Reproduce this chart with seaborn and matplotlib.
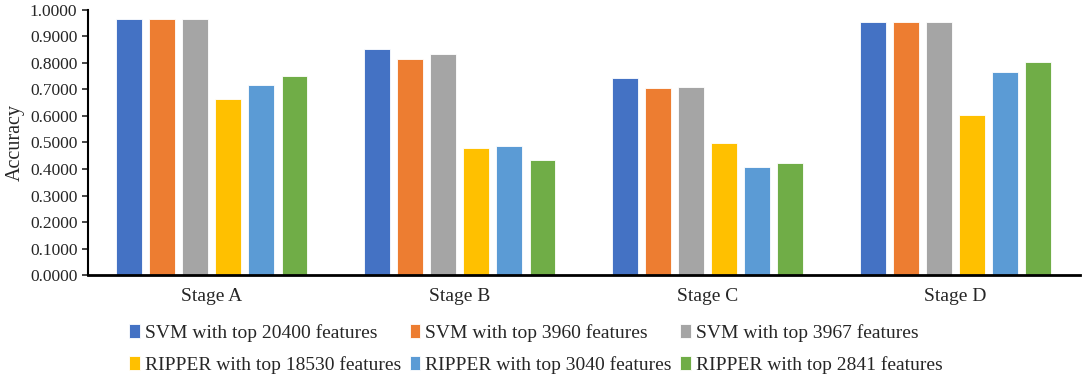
import seaborn as sns
import matplotlib.pyplot as plt
import pandas as pd
from matplotlib.ticker import FormatStrFormatter

stages = ["Stage A", "Stage B", "Stage C", "Stage D"]
series = [
    "SVM with top 20400 features",
    "SVM with top 3960 features",
    "SVM with top 3967 features",
    "RIPPER with top 18530 features",
    "RIPPER with top 3040 features",
    "RIPPER with top 2841 features",
]
svm_20400 = [0.966, 0.854, 0.742, 0.954]
svm_3960 = [0.966, 0.816, 0.706, 0.954]
svm_3967 = [0.966, 0.833, 0.711, 0.954]
ripper_18530 = [0.665, 0.480, 0.499, 0.605]
ripper_3040 = [0.716, 0.488, 0.406, 0.767]
ripper_2841 = [0.750, 0.435, 0.424, 0.803]
colors = ["#4472C4", "#ED7D31", "#A5A5A5", "#FFC000", "#5B9BD5", "#70AD47"]

values = [svm_20400, svm_3960, svm_3967, ripper_18530, ripper_3040, ripper_2841]
rows = []
for name, vals in zip(series, values):
    for st, v in zip(stages, vals):
        rows.append({"stage": st, "model": name, "acc": v})
df = pd.DataFrame(rows)

sns.set_style("white")
plt.rcParams["font.family"] = ["Liberation Serif", "DejaVu Serif"]

fig = plt.figure(figsize=(10.84, 3.81), dpi=100)
ax = fig.add_axes([0.081, 0.278, 0.915, 0.696])
sns.barplot(data=df, x="stage", y="acc", hue="model", hue_order=series,
            palette=colors, width=0.8, gap=0.22, edgecolor="white",
            linewidth=0.6, saturation=1, ax=ax, legend=True)

ax.set_ylim(0, 1.0)
ax.set_xlim(-0.5, 3.5)
ax.set_yticks([i / 10 for i in range(11)])
ax.yaxis.set_major_formatter(FormatStrFormatter("%.4f"))
ax.set_xlabel("")
ax.set_ylabel("Accuracy", fontsize=14.5, labelpad=4)
ax.tick_params(axis="y", labelsize=12.5, length=4, width=1.2, left=True, direction="out")
ax.tick_params(axis="x", labelsize=14, length=0, pad=9)
for s in ["top", "right"]:
    ax.spines[s].set_visible(False)
ax.spines["left"].set_color("black")
ax.spines["left"].set_linewidth(1.5)
ax.spines["bottom"].set_color("black")
ax.spines["bottom"].set_linewidth(2)

# legend is filled column by column, so reorder to read row by row
handles, labels = ax.get_legend_handles_labels()
ax.legend_.remove()
order = [0, 3, 1, 4, 2, 5]
fig.legend([handles[i] for i in order], [labels[i] for i in order], ncol=3,
           loc="upper left", bbox_to_anchor=(0.119, 0.150),
           frameon=False, fontsize=14, handlelength=0.55, handleheight=0.7,
           handletextpad=0.25, columnspacing=0.45, labelspacing=0.72,
           borderpad=0, borderaxespad=0)

fig.savefig("out.png", dpi=100)
